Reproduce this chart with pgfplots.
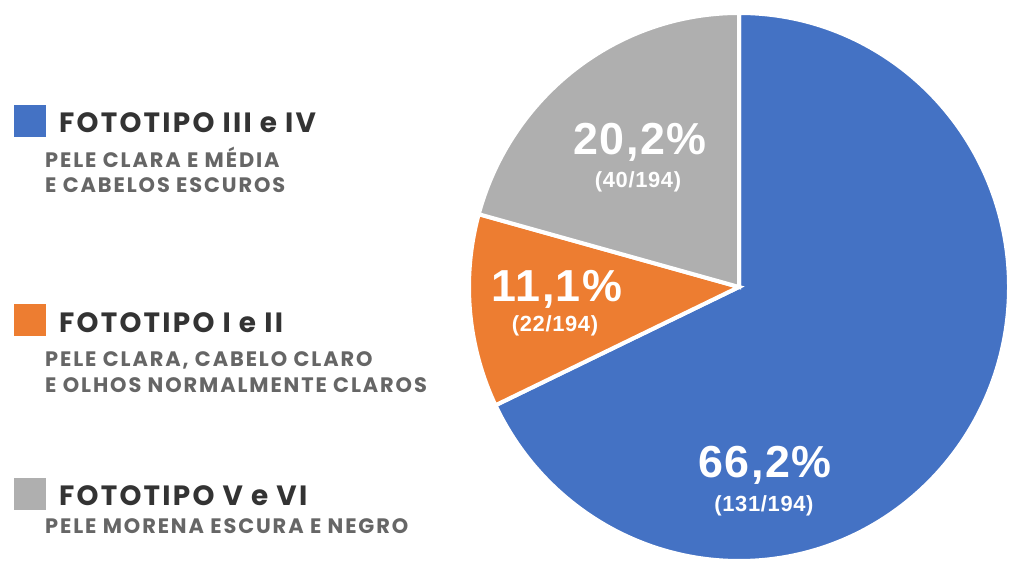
\documentclass[border=0pt]{standalone}
\usepackage{pgfplots}
\pgfplotsset{compat=1.18}
\usepackage{pgfplotstable}
\usepackage{fontspec}
\setmainfont{Liberation Sans}
\newfontfamily\pctfont[LetterSpace=3]{Liberation Sans}
\newfontfamily\legfont[LetterSpace=8]{Poppins}
\newfontfamily\subfont[LetterSpace=9]{Poppins}
\definecolor{cblue}{HTML}{4472C4}
\definecolor{corange}{HTML}{ED7D31}
\definecolor{cgray}{HTML}{AFAFAF}
\definecolor{ctitle}{HTML}{333333}
\definecolor{csub}{HTML}{666666}
\pgfplotstableread{
pct n
66.2 131
11.1 22
20.2 40
}\piedata
\begin{document}
\begin{tikzpicture}
\pgfplotstablegetelem{0}{pct}\of\piedata \let\pA\pgfplotsretval
\pgfplotstablegetelem{1}{pct}\of\piedata \let\pB\pgfplotsretval
\pgfplotstablegetelem{2}{pct}\of\piedata \let\pC\pgfplotsretval
\pgfmathsetmacro{\tot}{\pA+\pB+\pC}
\pgfmathsetmacro{\aA}{90-360*(\pA/\tot)}
\pgfmathsetmacro{\aB}{\aA-360*(\pB/\tot)}
\pgfmathsetmacro{\aC}{\aB-360*(\pC/\tot)}
\begin{axis}[width=1012bp,height=564bp,scale only axis,
  xmin=0,xmax=1012,ymin=0,ymax=564,hide axis,clip=false]
\path[fill=white] (axis cs:0,0) rectangle (axis cs:1012,564);
% pie
\filldraw[fill=cblue,draw=white,line width=4bp] (axis cs:739,277) -- ++(0bp,274bp) arc[start angle=90,end angle=\aA,x radius=270bp,y radius=274bp] -- cycle;
\filldraw[fill=corange,draw=white,line width=4bp] (axis cs:739,277) -- ++({270bp*cos(\aA)},{274bp*sin(\aA)}) arc[start angle=\aA,end angle=\aB,x radius=270bp,y radius=274bp] -- cycle;
\filldraw[fill=cgray,draw=white,line width=4bp] (axis cs:739,277) -- ++({270bp*cos(\aB)},{274bp*sin(\aB)}) arc[start angle=\aB,end angle=\aC,x radius=270bp,y radius=274bp] -- cycle;
% pie labels
\node[anchor=base,inner sep=0,text=white,font=\pctfont\bfseries\fontsize{45}{47}\selectfont] at (axis cs:640,409) {20,2\%};
\node[anchor=base,inner sep=0,text=white,font=\pctfont\bfseries\fontsize{22}{24}\selectfont] at (axis cs:638,376) {(40/194)};
\node[anchor=base,inner sep=0,text=white,font=\pctfont\bfseries\fontsize{45}{47}\selectfont] at (axis cs:557,262) {11,1\%};
\node[anchor=base,inner sep=0,text=white,font=\pctfont\bfseries\fontsize{22}{24}\selectfont] at (axis cs:555,232) {(22/194)};
\node[anchor=base,inner sep=0,text=white,font=\pctfont\bfseries\fontsize{45}{47}\selectfont] at (axis cs:765,86) {66,2\%};
\node[anchor=base,inner sep=0,text=white,font=\pctfont\bfseries\fontsize{22}{24}\selectfont] at (axis cs:764,52) {(131/194)};
% legend
\fill[cblue] (axis cs:14,427) rectangle (axis cs:46,459);
\node[anchor=base west,inner sep=0,text=ctitle,font=\legfont\bfseries\fontsize{28}{30}\selectfont] at (axis cs:59,431) {FOTOTIPO III e IV};
\node[anchor=base west,inner sep=0,text=csub,font=\subfont\bfseries\fontsize{21}{23}\selectfont] at (axis cs:45,396) {PELE CLARA E MÉDIA};
\node[anchor=base west,inner sep=0,text=csub,font=\subfont\bfseries\fontsize{21}{23}\selectfont] at (axis cs:45,371) {E CABELOS ESCUROS};
\fill[corange] (axis cs:14,228) rectangle (axis cs:46,260);
\node[anchor=base west,inner sep=0,text=ctitle,font=\legfont\bfseries\fontsize{28}{30}\selectfont] at (axis cs:59,231) {FOTOTIPO I e II};
\node[anchor=base west,inner sep=0,text=csub,font=\subfont\bfseries\fontsize{21}{23}\selectfont] at (axis cs:45,197) {PELE CLARA, CABELO CLARO};
\node[anchor=base west,inner sep=0,text=csub,font=\subfont\bfseries\fontsize{21}{23}\selectfont] at (axis cs:45,171) {E OLHOS NORMALMENTE CLAROS};
\fill[cgray] (axis cs:14,54) rectangle (axis cs:46,86);
\node[anchor=base west,inner sep=0,text=ctitle,font=\legfont\bfseries\fontsize{28}{30}\selectfont] at (axis cs:59,58) {FOTOTIPO V e VI};
\node[anchor=base west,inner sep=0,text=csub,font=\subfont\bfseries\fontsize{21}{23}\selectfont] at (axis cs:45,31) {PELE MORENA ESCURA E NEGRO};
\end{axis}
\end{tikzpicture}
\end{document}
